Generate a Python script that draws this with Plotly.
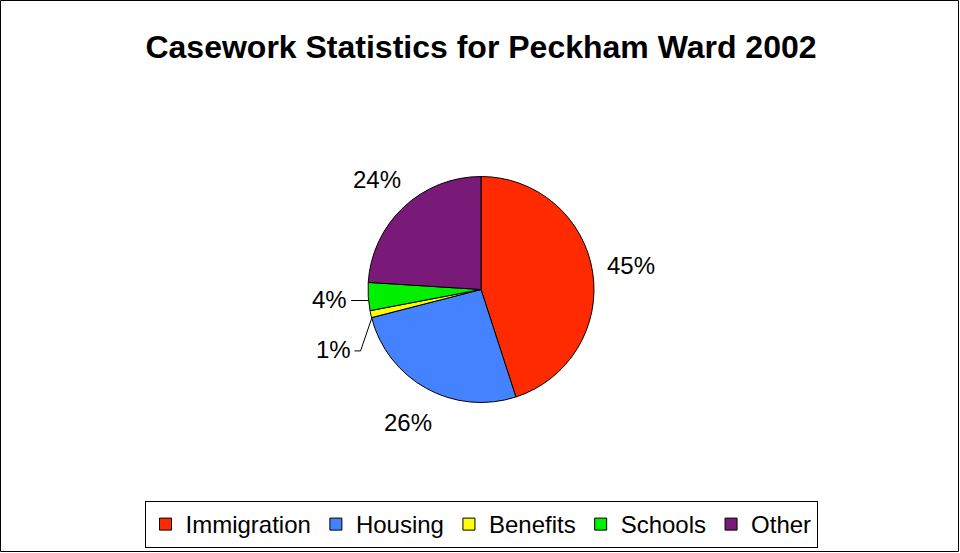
import math
import plotly.graph_objects as go

categories = ["Immigration", "Housing", "Benefits", "Schools", "Other"]
values = [45, 26, 1, 4, 24]
colors = ["#FF2A00", "#4582FF", "#FFFF00", "#00F000", "#7A1A78"]
title_text = "Casework Statistics for Peckham Ward 2002"

W, H = 960, 553
cx, cy, r = 481, 289.5, 113
FONT = "Liberation Sans, Arial"
LBL = 24

fig = go.Figure(go.Pie(
    labels=categories,
    values=values,
    sort=False,
    direction="clockwise",
    rotation=0,
    marker=dict(colors=colors, line=dict(color="black", width=1)),
    textinfo="none",
    domain=dict(x=[(cx - r) / W, (cx + r) / W], y=[1 - (cy + r) / H, 1 - (cy - r) / H]),
    hoverinfo="label+percent",
))

# ---- outside percentage labels, placed from the data's slice angles ----
total = float(sum(values))
labels = []
cum = 0.0
for v in values:
    mid = (cum + v / 2.0) / total * 2 * math.pi  # clockwise from 12 o'clock
    cum += v
    dx, dy = math.sin(mid), -math.cos(mid)  # pixel direction (y down)
    txt = "%d%%" % round(v / total * 100)
    w = (0.556 * (len(txt) - 1) + 0.889) * LBL
    ex, ey = cx + r * dx, cy + r * dy
    k = 1.34
    tx = cx + k * r * dx
    ty = cy + k * r * dy
    labels.append(dict(txt=txt, x=tx, y=ty, ex=ex, ey=ey, w=w, small=v / total < 0.05,
                       side=1 if dx >= 0 else -1))

# simple collision handling per side (push lower labels downward)
min_sep = 2.1 * LBL
for side in (-1, 1):
    grp = sorted([l for l in labels if l["side"] == side], key=lambda l: l["y"])
    for a, b in zip(grp, grp[1:]):
        if a["small"] and b["small"] and b["y"] - a["y"] < min_sep:
            b["y"] = a["y"] + min_sep

annotations = []
shapes = []
for l in labels:
    annotations.append(dict(text=l["txt"], x=l["x"] / W, y=1 - l["y"] / H, xref="paper", yref="paper",
                            xanchor="center", yanchor="middle", showarrow=False,
                            font=dict(family=FONT, size=LBL, color="black")))
    if l["small"]:
        sx = l["x"] - l["side"] * (l["w"] / 2 + 4)
        ly = l["y"] + 1.5
        if abs(ly - l["ey"]) > 8:
            mx = sx - l["side"] * 6
            pts = [(sx, ly), (mx, ly), (l["ex"] + 1, l["ey"] + 4)]
        else:
            pts = [(sx, ly), (l["ex"], ly)]
        path = "M " + " L ".join("%f,%f" % (px / W, 1 - py / H) for px, py in pts)
        shapes.append(dict(type="path", xref="paper", yref="paper", path=path,
                           line=dict(color="black", width=1)))

shapes.append(dict(type="rect", xref="paper", yref="paper", x0=0.5 / W, x1=1 - 1.5 / W,
                   y0=1.5 / H, y1=1 - 0.5 / H, line=dict(color="black", width=1)))

fig.update_layout(
    width=W, height=H,
    margin=dict(l=0, r=0, t=0, b=0),
    paper_bgcolor="white",
    plot_bgcolor="white",
    font=dict(family=FONT, color="black"),
    title=dict(text="<b>" + title_text + "</b>", x=481 / W, xanchor="center",
               y=1 - 47 / H, yanchor="middle",
               font=dict(size=32, family=FONT, color="black")),
    showlegend=True,
    legend=dict(orientation="h", x=481 / W, xanchor="center", y=1 - 548 / H, yanchor="bottom",
                bordercolor="black", borderwidth=1, bgcolor="white",
                font=dict(size=24, family=FONT, color="black")),
    annotations=annotations,
    shapes=shapes,
)

fig.write_html("out.html", config={"displayModeBar": False},
               post_script="document.body.style.margin='0';document.body.style.overflow='hidden';")
